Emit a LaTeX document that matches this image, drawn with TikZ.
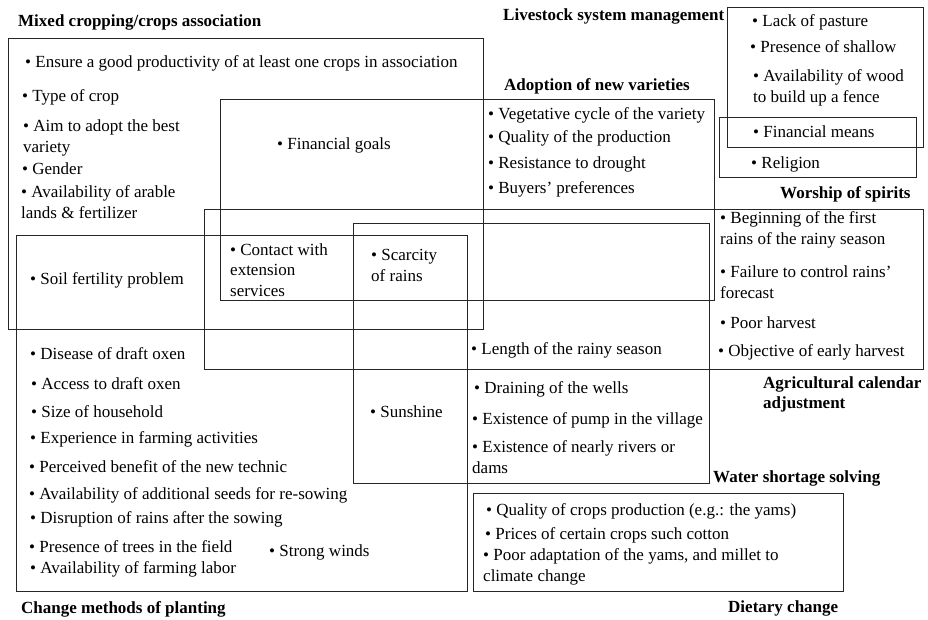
\documentclass[tikz,border=0pt]{standalone}
\usepackage{fontspec}
\setmainfont{Liberation Serif}
\usepackage{tikz}

\begin{document}
\begin{tikzpicture}[x=1pt, y=-1pt,
    every node/.style={inner sep=0pt, anchor=base west, align=left, font=\fontsize{17}{20.5}\selectfont},
    ttl/.style={font=\fontsize{17}{20}\selectfont\bfseries},
    zone/.style={draw=black!85, line width=0.9pt}]
  \useasboundingbox (0,0) rectangle (928,619);
  % zones
  \draw[zone] (8,38) rectangle (483,329);
  \draw[zone] (220,99) rectangle (714,300);
  \draw[zone] (204,209) rectangle (923,369);
  \draw[zone] (353,223) rectangle (709,483);
  \draw[zone] (16,235) rectangle (467,591);
  \draw[zone] (727,7) rectangle (923,147);
  \draw[zone] (719,117) rectangle (916,177);
  \draw[zone] (473,493) rectangle (843,591);
  % titles (multi-line nodes sit on their last baseline)
  \node[ttl] (tmix) at (18,26) {Mixed cropping/crops association};
  \node[ttl] (tlive) at (503,20) {Livestock system management};
  \node[ttl] (tadopt) at (504,90) {Adoption of new varieties};
  \node[ttl] (tworship) at (780,198) {Worship of spirits};
  \node[ttl] (tcal) at (763,408) {Agricultural calendar\\adjustment};
  \node[ttl] (twater) at (713,482) {Water shortage solving};
  \node[ttl] (tplant) at (21,613) {Change methods of planting};
  \node[ttl] (tdiet) at (728,612) {Dietary change};
  % mixed cropping
  \node (m1) at (25,67) {• Ensure a good productivity of at least one crops in association};
  \node (m2) at (22,101) {• Type of crop};
  \node (m3) at (23,152) {• Aim to adopt the best\\variety};
  \node (m4) at (22,174) {• Gender};
  \node (m5) at (21,218) {• Availability of arable\\lands \& fertilizer};
  \node (m6) at (30,284) {• Soil fertility problem};
  \node (fg) at (277,149) {• Financial goals};
  \node (ext) at (230,296) {• Contact with\\extension\\services};
  \node (scar) at (371,281) {• Scarcity\\of rains};
  % livestock
  \node (l1) at (752,26) {• Lack of pasture};
  \node (l2) at (750,52) {• Presence of shallow};
  \node (l3) at (753,102) {• Availability of wood\\to build up a fence};
  \node (fm) at (753,137) {• Financial means};
  \node (rel) at (751,168) {• Religion};
  % adoption
  \node (v1) at (488,119) {• Vegetative cycle of the variety};
  \node (v2) at (488,142) {• Quality of the production};
  \node (v3) at (488,168) {• Resistance to drought};
  \node (v4) at (488,193) {• Buyers’ preferences};
  % calendar
  \node (c1) at (720,244) {• Beginning of the first\\rains of the rainy season};
  \node (c2) at (720,298) {• Failure to control rains’\\forecast};
  \node (c3) at (720,328) {• Poor harvest};
  \node (c4) at (718,356) {• Objective of early harvest};
  \node (len) at (471,354) {• Length of the rainy season};
  % planting
  \node (p1) at (30,359) {• Disease of draft oxen};
  \node (p2) at (31,389) {• Access to draft oxen};
  \node (p3) at (31,417) {• Size of household};
  \node (p4) at (30,443) {• Experience in farming activities};
  \node (p5) at (29,472) {• Perceived benefit of the new technic};
  \node (p6) at (29,499) {• Availability of additional seeds for re-sowing};
  \node (p7) at (30,523) {• Disruption of rains after the sowing};
  \node (p8) at (29,552) {• Presence of trees in the field};
  \node (p9) at (30,573) {• Availability of farming labor};
  \node (wind) at (269,556) {• Strong winds};
  \node (sun) at (370,417) {• Sunshine};
  % water
  \node (w1) at (474,393) {• Draining of the wells};
  \node (w2) at (472,424) {• Existence of pump in the village};
  \node (w3) at (472,473) {• Existence of nearly rivers or\\dams};
  % diet
  \node (d1) at (486,515) {• Quality of crops production (e.g.: the yams)};
  \node (d2) at (485,539) {• Prices of certain crops such cotton};
  \node (d3) at (483,581) {• Poor adaptation of the yams, and millet to\\climate change};
\end{tikzpicture}
\end{document}
